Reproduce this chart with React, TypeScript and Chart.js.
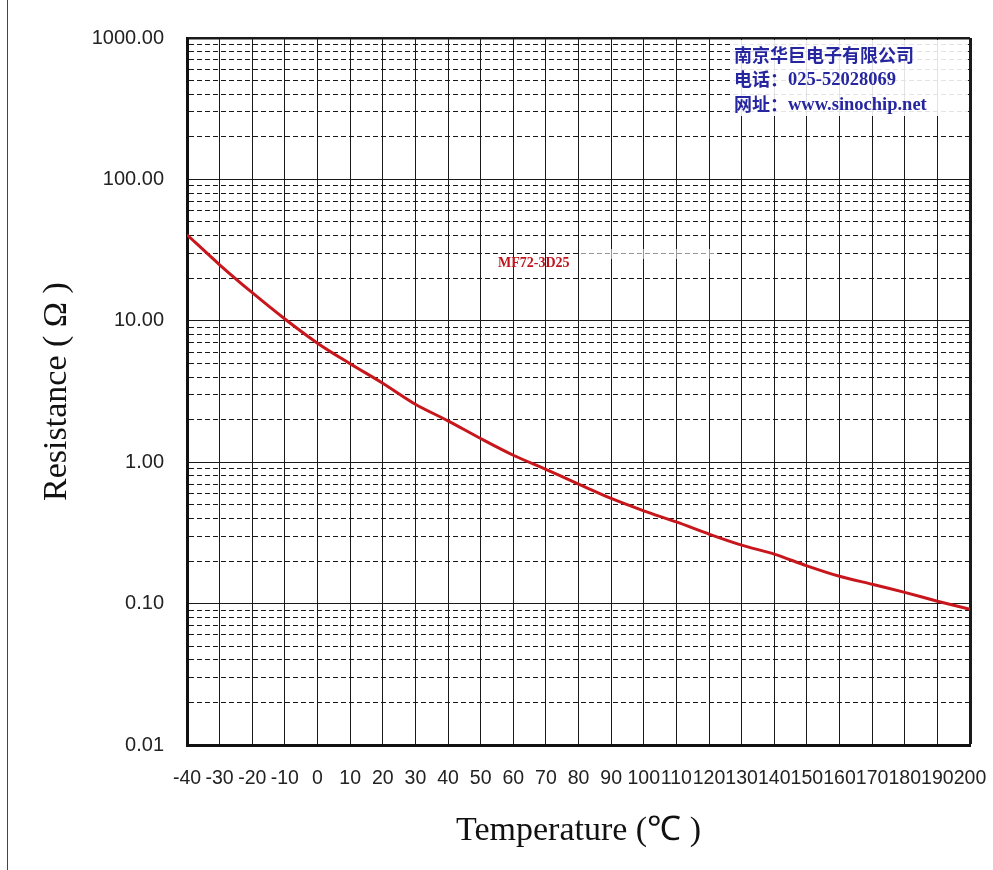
import React, { useEffect, useRef } from "react";
import { Chart, registerables } from "chart.js";

Chart.register(...registerables);

// ---- data ----
const temperatures = [-40, -30, -20, -10, 0, 10, 20, 30, 40, 50, 60, 70, 80, 90, 100, 110, 120, 130, 140, 150, 160, 170, 180, 190, 200];
const resistanceOhm = [40.6, 24.9, 15.8, 10.3, 6.95, 4.97, 3.62, 2.57, 1.96, 1.47, 1.12, 0.89, 0.7, 0.554, 0.453, 0.378, 0.31, 0.259, 0.224, 0.185, 0.156, 0.137, 0.12, 0.104, 0.091];
const seriesLabel = "MF72-3D25";

const yDecades = [0.01, 0.1, 1, 10, 100, 1000];
const yTickLabels = ["0.01", "0.10", "1.00", "10.00", "100.00", "1000.00"];
const yMinorMultipliers = [2, 3, 4, 5, 6, 7, 8, 9];
const xTickLabels = ["-40", "-30", "-20", "-10", "0", "10", "20", "30", "40", "50", "60", "70", "80", "90", "100", "110", "120", "130", "140", "150", "160", "170", "180", "190", "200"];

const yTitle = "Resistance ( Ω )";
const xTitle = "Temperature (℃ )";
const companyName = "南京华巨电子有限公司";
const phoneLabel = "电话：";
const phoneValue = "025-52028069";
const webLabel = "网址：";
const webValue = "www.sinochip.net";

// gridline list for the log axis (decades + minor steps)
const yGridTicks: { value: number; major: boolean }[] = [];
yDecades.forEach((d, i) => {
  yGridTicks.push({ value: d, major: true });
  if (i < yDecades.length - 1) yMinorMultipliers.forEach((m) => yGridTicks.push({ value: d * m, major: false }));
});

const overlayPlugin = {
  id: "overlayText",
  afterDraw(chart: any) {
    const ctx = chart.ctx as CanvasRenderingContext2D;
    const { right, top } = chart.chartArea;
    ctx.save();
    // company info box
    ctx.fillStyle = "rgba(255,255,255,0.88)";
    ctx.fillRect(733, top + 2, right - 2 - 733, 76);
    ctx.fillStyle = "#2626a0";
    ctx.textBaseline = "middle";
    ctx.textAlign = "left";
    ctx.font = 'bold 18px "Noto Sans CJK SC"';
    ctx.fillText(companyName, 734, 55);
    ctx.fillText(phoneLabel, 734, 79);
    ctx.fillText(webLabel, 734, 104);
    ctx.font = 'bold 18.5px "Liberation Serif"';
    ctx.fillText(phoneValue, 788, 80);
    ctx.fillText(webValue, 788, 105);

    // series label
    ctx.fillStyle = "rgba(255,255,255,0.55)";
    ctx.fillRect(580, 249, 135, 10);
    ctx.fillStyle = "#c0141c";
    ctx.textBaseline = "alphabetic";
    ctx.font = 'bold 14px "Liberation Serif"';
    ctx.fillText(seriesLabel, 498, 267);
    ctx.restore();
  },
};

const isDecade = (v: number) => {
  const l = Math.log10(v);
  return Math.abs(l - Math.round(l)) < 1e-6;
};

export default function App() {
  const canvasRef = useRef<HTMLCanvasElement | null>(null);

  useEffect(() => {
    if (!canvasRef.current) return;
    const chart = new Chart(canvasRef.current, {
      type: "line",
      data: {
        datasets: [
          {
            label: seriesLabel,
            data: temperatures.map((t, i) => ({ x: t, y: resistanceOhm[i] })),
            borderColor: "#c8161d",
            borderWidth: 3,
            pointRadius: 0,
            tension: 0.3,
            fill: false,
          },
        ],
      },
      options: {
        animation: false,
        responsive: false,
        devicePixelRatio: 1,
        layout: { padding: { top: 38, right: 23, bottom: 0, left: 0 } },
        plugins: {
          legend: { display: false },
          tooltip: { enabled: false },
        },
        scales: {
          x: {
            type: "linear",
            min: -40,
            max: 200,
            afterBuildTicks: (scale: any) => {
              scale.ticks = temperatures.map((t) => ({ value: t }));
            },
            afterFit: (scale: any) => {
              scale.height = 125;
              scale.paddingLeft = 0;
              scale.paddingRight = 0;
            },
            ticks: {
              autoSkip: false,
              maxRotation: 0,
              minRotation: 0,
              padding: 22,
              color: "#222",
              font: { family: '"Liberation Sans"', size: 19.5 },
              callback: (_v: any, i: number) => xTickLabels[i],
            },
            grid: {
              color: "#1a1a1a",
              drawTicks: false,
              lineWidth: (c: any) => (c.tick && c.tick.value === 200 ? 3 : 1),
            },
            border: { display: true, color: "#111", width: 3 },
            title: {
              display: true,
              text: xTitle,
              color: "#111",
              font: { family: '"Liberation Serif"', size: 34 },
              padding: { top: 0, bottom: 19 },
            },
          },
          y: {
            type: "logarithmic",
            min: 0.01,
            max: 1000,
            afterBuildTicks: (scale: any) => {
              scale.ticks = yGridTicks.map((t) => ({ value: t.value, major: t.major }));
            },
            afterFit: (scale: any) => {
              scale.width = 187;
              scale.paddingTop = 0;
              scale.paddingBottom = 0;
            },
            ticks: {
              autoSkip: false,
              padding: 23,
              color: "#222",
              font: { family: '"Liberation Sans"', size: 20 },
              callback: (v: any) => {
                const idx = yDecades.findIndex((d) => Math.abs(Math.log10(d) - Math.log10(v)) < 1e-6);
                return idx >= 0 ? yTickLabels[idx] : "";
              },
            },
            grid: {
              color: "#1a1a1a",
              drawTicks: false,
              lineWidth: (c: any) => (c.tick && Math.abs(c.tick.value - 1000) < 1e-6 ? 2.5 : 1),
            },
            border: {
              display: true,
              color: "#111",
              width: 3,
              dash: (c: any) => (c.tick && !isDecade(c.tick.value) ? [5, 3] : []),
            },
            title: {
              display: true,
              text: yTitle,
              color: "#111",
              font: { family: '"Liberation Serif"', size: 34 },
              padding: { top: 37, bottom: 0 },
            },
          },
        },
      },
      plugins: [overlayPlugin],
    } as any);
    return () => chart.destroy();
  }, []);

  return (
    <div style={{ position: "fixed", left: 0, top: 0, width: 993, height: 870, background: "#fff" }}>
      <canvas ref={canvasRef} width={993} height={870} style={{ width: 993, height: 870, display: "block" }} />
      <div style={{ position: "absolute", left: 7, top: 0, width: 1, height: 870, background: "#444" }} />
    </div>
  );
}
